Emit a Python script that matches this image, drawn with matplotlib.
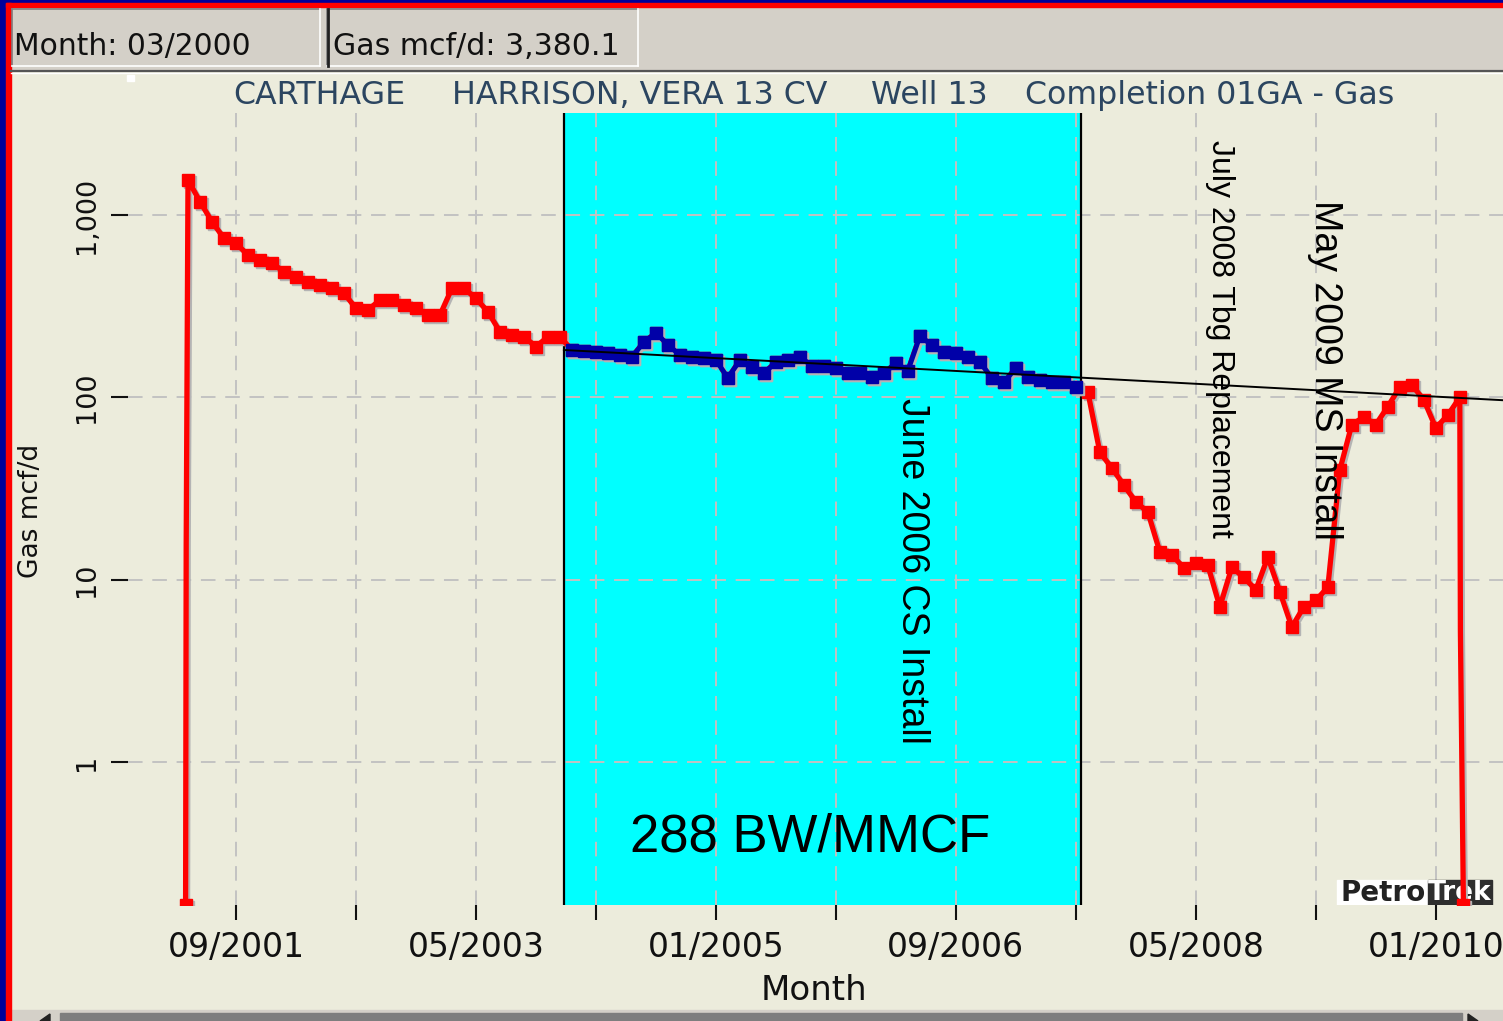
import matplotlib
matplotlib.use('Agg')
import matplotlib.pyplot as plt
from matplotlib.patches import Rectangle, Polygon
from matplotlib.transforms import offset_copy
from matplotlib.ticker import FixedLocator, FixedFormatter, NullLocator

plt.rcParams['font.family'] = ['DejaVu Sans']

W, H = 1503, 1021

# months counted from 01/2000 = 0, gas rate in mcf/d
early_months = [15.8, 15.85, 16, 17, 18, 19, 20, 21, 22, 23, 24, 25, 26, 27, 28, 29, 30, 31,
                32, 33, 34, 35, 36, 37, 38, 39, 40, 41, 42, 43, 44, 45, 46, 47]
early_rate = [0.165, 15.5, 1560, 1185, 920, 746, 700, 604, 567, 544, 490, 460, 431, 414, 397,
              373, 308, 302, 342, 342, 321, 308, 283, 283, 397, 397, 349, 295, 229, 220, 215,
              190, 215, 215]

# highlighted (blue) period
study_months = list(range(48, 91))
study_rate = [182, 180, 177, 175, 170, 167, 201, 226, 194, 171, 167, 165, 160, 128, 160, 147,
              136, 156, 160, 167, 149, 149, 145, 136, 136, 129, 136, 154, 140, 217, 194, 177,
              175, 167, 156, 128, 121, 145, 129, 124, 121, 121, 114]

late_months = [91, 92, 93, 94, 95, 96, 97, 98, 99, 100, 101, 102, 103, 104, 105, 106, 107, 108,
               109, 110, 111, 112, 113, 114, 115, 116, 117, 118, 119, 120, 121, 122, 122.05, 122.3]
late_rate = [107, 50, 41, 33, 26.7, 23.5, 14.2, 13.7, 11.6, 12.4, 12.0, 7.1, 11.7, 10.3, 8.8,
             13.3, 8.6, 5.5, 7.1, 7.7, 9.1, 40, 71, 78, 71, 89, 114, 117, 97, 68, 80, 100, 5.2, 0.165]

# decline trend through the highlighted period
trend_months = [47.33, 125.6]
trend_rate = [182, 96.5]

span_start, span_end = 47.33, 90.42

tick_months = [20, 30, 40, 50, 60, 70, 80, 90, 100, 110, 120]
tick_labels = ['09/2001', '', '05/2003', '', '01/2005', '', '09/2006', '', '05/2008', '', '01/2010']
ytick_values = [1, 10, 100, 1000]
ytick_labels = ['1', '10', '100', '1,000']

red_months = early_months + study_months + late_months
red_rate = early_rate + study_rate + late_rate
n = len(red_months)
red_marks = [i for i in range(n) if i not in (1, n - 2)]

beige = '#ECECDC'
panel_gray = '#D4D0C8'
title_color = '#2B4560'

fig = plt.figure(figsize=(W / 100, H / 100), dpi=100)

# background canvas in pixel coordinates
bg = fig.add_axes([0, 0, 1, 1])
bg.set_xlim(0, W)
bg.set_ylim(H, 0)
bg.axis('off')
bg.add_patch(Rectangle((0, 0), W, H, color=beige))
bg.add_patch(Rectangle((11, 6), W, 65, color=panel_gray))
bg.plot([11, W], [71, 71], color='#555555', lw=1.6)
bg.plot([11, W], [73, 73], color='white', lw=1.0)
# sunken header panels
for x0, x1 in [(12, 320), (327, 638)]:
    bg.plot([x0, x1], [9, 9], color='#808080', lw=1.2)
    bg.plot([x0, x0], [9, 66], color='#808080', lw=1.2)
    bg.plot([x0, x1], [66, 66], color='white', lw=1.2)
    bg.plot([x1, x1], [9, 66], color='white', lw=1.2)
bg.plot([328, 328], [9, 66], color='#222222', lw=2.0)
bg.add_patch(Rectangle((127, 75), 7, 6, color='white'))
# scrollbar at the bottom
bg.add_patch(Rectangle((11, 1010), W, 11, color=panel_gray))
bg.add_patch(Rectangle((60, 1013), 1402, 8, color='#7E7E7E'))
bg.add_patch(Polygon([[40, 1021], [50, 1014], [50, 1021]], color='#222222'))
bg.add_patch(Polygon([[1478, 1021], [1468, 1014], [1468, 1021]], color='#222222'))
# window border
bg.add_patch(Rectangle((0, 0), 6, H, color='#00009A'))
bg.add_patch(Rectangle((0, 0), W, 3, color='#00009A'))
bg.add_patch(Rectangle((6, 3), 5, H, color='#FF0000'))
bg.add_patch(Rectangle((6, 3), W, 4, color='#FF0000'))

# main chart
ax = fig.add_axes([128 / W, 1 - 905 / H, (W - 128) / W, (905 - 113) / H])
ax.set_facecolor('none')
ax.set_yscale('log')
ax.set_xlim(11, 125.6)
ax.set_ylim(0.1643, 3631)
for s in ax.spines.values():
    s.set_visible(False)

ax.axvspan(span_start, span_end, color='#00FFFF', lw=0, zorder=1)
ax.axvline(span_start, color='black', lw=1.6, zorder=2.5)
ax.axvline(span_end, color='black', lw=1.6, zorder=2.5)

ax.xaxis.set_major_locator(FixedLocator(tick_months))
ax.xaxis.set_major_formatter(FixedFormatter(tick_labels))
ax.yaxis.set_major_locator(FixedLocator(ytick_values))
ax.yaxis.set_major_formatter(FixedFormatter(ytick_labels))
ax.yaxis.set_minor_locator(NullLocator())
ax.xaxis.set_minor_locator(NullLocator())
ax.grid(True, color='#C2C2C2', lw=1.4, linestyle=(0, (7.5, 5)))
ax.tick_params(axis='x', length=10.5, width=1.5, pad=8, labelsize=23.8, colors='#111111')
ax.tick_params(axis='y', length=12.5, width=1.5, pad=8, labelsize=19.5, colors='#111111',
               labelrotation=90)
for lbl in ax.get_yticklabels():
    lbl.set_va('center')

shadow = offset_copy(ax.transData, fig=fig, x=2, y=-2, units='dots')
ax.plot(red_months, red_rate, color='#B4B4B4', lw=3.8, marker='s', ms=8.5, markevery=red_marks,
        transform=shadow, zorder=2.7)
ax.plot(red_months, red_rate, color='#FF0000', lw=3.8, marker='s', ms=8.5, markevery=red_marks,
        zorder=3)
ax.plot(study_months, study_rate, color='#B4B4B4', lw=3.6, marker='s', ms=8.5,
        transform=shadow, zorder=3.1)
ax.plot(study_months, study_rate, color='#0000A8', lw=3.6, marker='s', ms=8.5, zorder=3.2)
ax.plot(trend_months, trend_rate, color='black', lw=1.4, zorder=3.5)

# PetroTrek logo, under the data lines
ax.add_artist(Rectangle((1337, 880), 91, 25, color='white', transform=bg.transData, zorder=2.6))
ax.add_artist(Rectangle((1428, 880), 64, 25, color='#2E2E2E', transform=bg.transData, zorder=2.6))
ax.text(1383, 893, 'Petro', transform=bg.transData, ha='center', va='center', fontsize=20,
        fontweight='bold', color='#222222', zorder=2.65)
ax.text(1460, 893, 'Trek', transform=bg.transData, ha='center', va='center', fontsize=19,
        fontweight='bold', color='white', zorder=2.65)


def fx(x):
    return x / W


def fy(y):
    return 1 - y / H


# header readouts
fig.text(fx(14), fy(55), 'Month: 03/2000', fontsize=21.4, color='#111111', va='baseline')
fig.text(fx(333), fy(55), 'Gas mcf/d: 3,380.1', fontsize=21.6, color='#111111', va='baseline')

# title line
for x, s in [(233, 'CARTHAGE'), (452, 'HARRISON, VERA 13 CV'), (871, 'Well 13'),
             (1025, 'Completion 01GA - Gas')]:
    fig.text(fx(x), fy(104), s, fontsize=22.8, color=title_color, va='baseline')

fig.text(fx(814), fy(1000), 'Month', fontsize=24.5, color='#111111', ha='center', va='baseline')
fig.text(fx(31), fy(511), 'Gas mcf/d', fontsize=19, color='#111111', rotation=90,
         ha='center', va='center')

# slide annotations
arial = ['Liberation Sans', 'DejaVu Sans']
fig.text(fx(912), fy(398), 'June 2006 CS Install', family=arial, fontsize=27, rotation=-90,
         ha='center', va='top', color='black')
fig.text(fx(1220), fy(140), 'July 2008 Tbg Replacement', family=arial, fontsize=23, rotation=-90,
         ha='center', va='top', color='black')
fig.text(fx(1325), fy(200), 'May 2009 MS Install', family=arial, fontsize=27, rotation=-90,
         ha='center', va='top', color='black')
fig.text(fx(810), fy(852), '288 BW/MMCF', family=arial, fontsize=38, ha='center',
         va='baseline', color='black')

fig.savefig('out.png', dpi=100)
